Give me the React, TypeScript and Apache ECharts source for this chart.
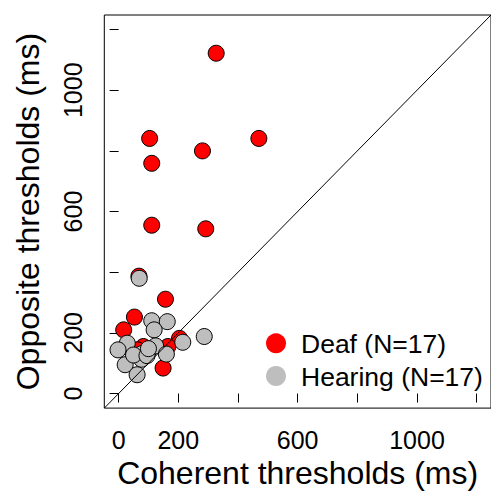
import React, { useEffect, useRef } from "react";
import * as echarts from "echarts";

// Deaf group: [coherent, opposite] thresholds (ms)
const deafPoints: [number, number][] = [
  [327, 1122], [104, 841], [281, 800], [111, 759], [111, 555], [292, 543],
  [470, 841], [68, 387], [157, 311], [53, 252], [17, 210], [204, 182],
  [149, 84], [83, 155], [165, 155], [64, 144], [100, 140],
];
// Hearing group
const hearingPoints: [number, number][] = [
  [69, 380], [111, 240], [163, 237], [119, 210], [215, 169], [287, 188],
  [29, 166], [-2, 144], [124, 157], [160, 130], [77, 131], [77, 113],
  [22, 95], [62, 62], [50, 127], [95, 125], [100, 148],
];
const tickValues = [0, 200, 400, 600, 800, 1000, 1200];
const labelValues = [0, 200, 600, 1000];
const axisMin = -48;
const axisMax = 1248;
const identityLine: [number, number][] = [[axisMin, axisMin], [axisMax, axisMax]];
const legendNames = ["Deaf (N=17)", "Hearing (N=17)"];

const FONT = "'Liberation Sans', Arial, Helvetica, sans-serif";

export default function App() {
  const ref = useRef<HTMLDivElement>(null);
  useEffect(() => {
    if (!ref.current) return;
    const chart = echarts.init(ref.current, undefined, { renderer: "svg" });
    const axisCommon = {
      type: "value" as const,
      min: axisMin,
      max: axisMax,
      nameLocation: "middle" as const,
      nameTextStyle: { fontFamily: FONT, fontSize: 32, color: "#000" },
      axisLine: { show: false },
      axisTick: {
        show: true,
        length: 9,
        customValues: tickValues,
        lineStyle: { color: "#000", width: 1 },
      },
      splitLine: { show: false },
    };
    const fmt = (v: number) => String(v);
    chart.setOption({
      animation: false,
      backgroundColor: "#fff",
      grid: {
        left: 104.3,
        top: 15,
        right: -5.7,
        bottom: 85.7,
        show: true,
        borderColor: "#000",
        borderWidth: 1,
        backgroundColor: "transparent",
      },
      xAxis: {
        ...axisCommon,
        name: "Coherent thresholds (ms)",
        nameGap: 47,
        axisLabel: {
          customValues: labelValues,
          formatter: fmt,
          fontFamily: FONT,
          fontSize: 25,
          color: "#000",
          margin: 19,
        },
      },
      yAxis: {
        ...axisCommon,
        name: "Opposite thresholds (ms)",
        nameGap: 60,
        axisLabel: {
          customValues: labelValues,
          formatter: fmt,
          rotate: 90,
          fontFamily: FONT,
          fontSize: 25,
          color: "#000",
          margin: 19,
        },
      },
      series: [
        {
          type: "scatter",
          data: deafPoints,
          symbol: "circle",
          symbolSize: 16,
          itemStyle: { color: "#FF0000", borderColor: "#000", borderWidth: 1, opacity: 1 },
          z: 2,
        },
        {
          type: "scatter",
          data: hearingPoints,
          symbol: "circle",
          symbolSize: 16,
          itemStyle: { color: "#BEBEBE", borderColor: "#000", borderWidth: 1, opacity: 1 },
          z: 3,
        },
        {
          type: "line",
          data: identityLine,
          symbol: "none",
          lineStyle: { color: "#000", width: 1 },
          z: 4,
          silent: true,
        },
      ],
      graphic: [
        { type: "circle", shape: { cx: 276, cy: 343.3, r: 10 }, style: { fill: "#FF0000" } },
        { type: "circle", shape: { cx: 276, cy: 376, r: 10 }, style: { fill: "#BEBEBE" } },
        {
          type: "text",
          x: 301,
          y: 344,
          style: {
            text: legendNames[0],
            fontFamily: FONT,
            fontSize: 26.5,
            fill: "#000",
            verticalAlign: "middle",
            align: "left",
          },
        },
        {
          type: "text",
          x: 301,
          y: 377,
          style: {
            text: legendNames[1],
            fontFamily: FONT,
            fontSize: 26.5,
            fill: "#000",
            verticalAlign: "middle",
            align: "left",
          },
        },
      ],
    });
    return () => chart.dispose();
  }, []);
  return (
    <div
      ref={ref}
      style={{ position: "absolute", left: 0, top: 0, width: 491, height: 494, background: "#fff" }}
    />
  );
}
